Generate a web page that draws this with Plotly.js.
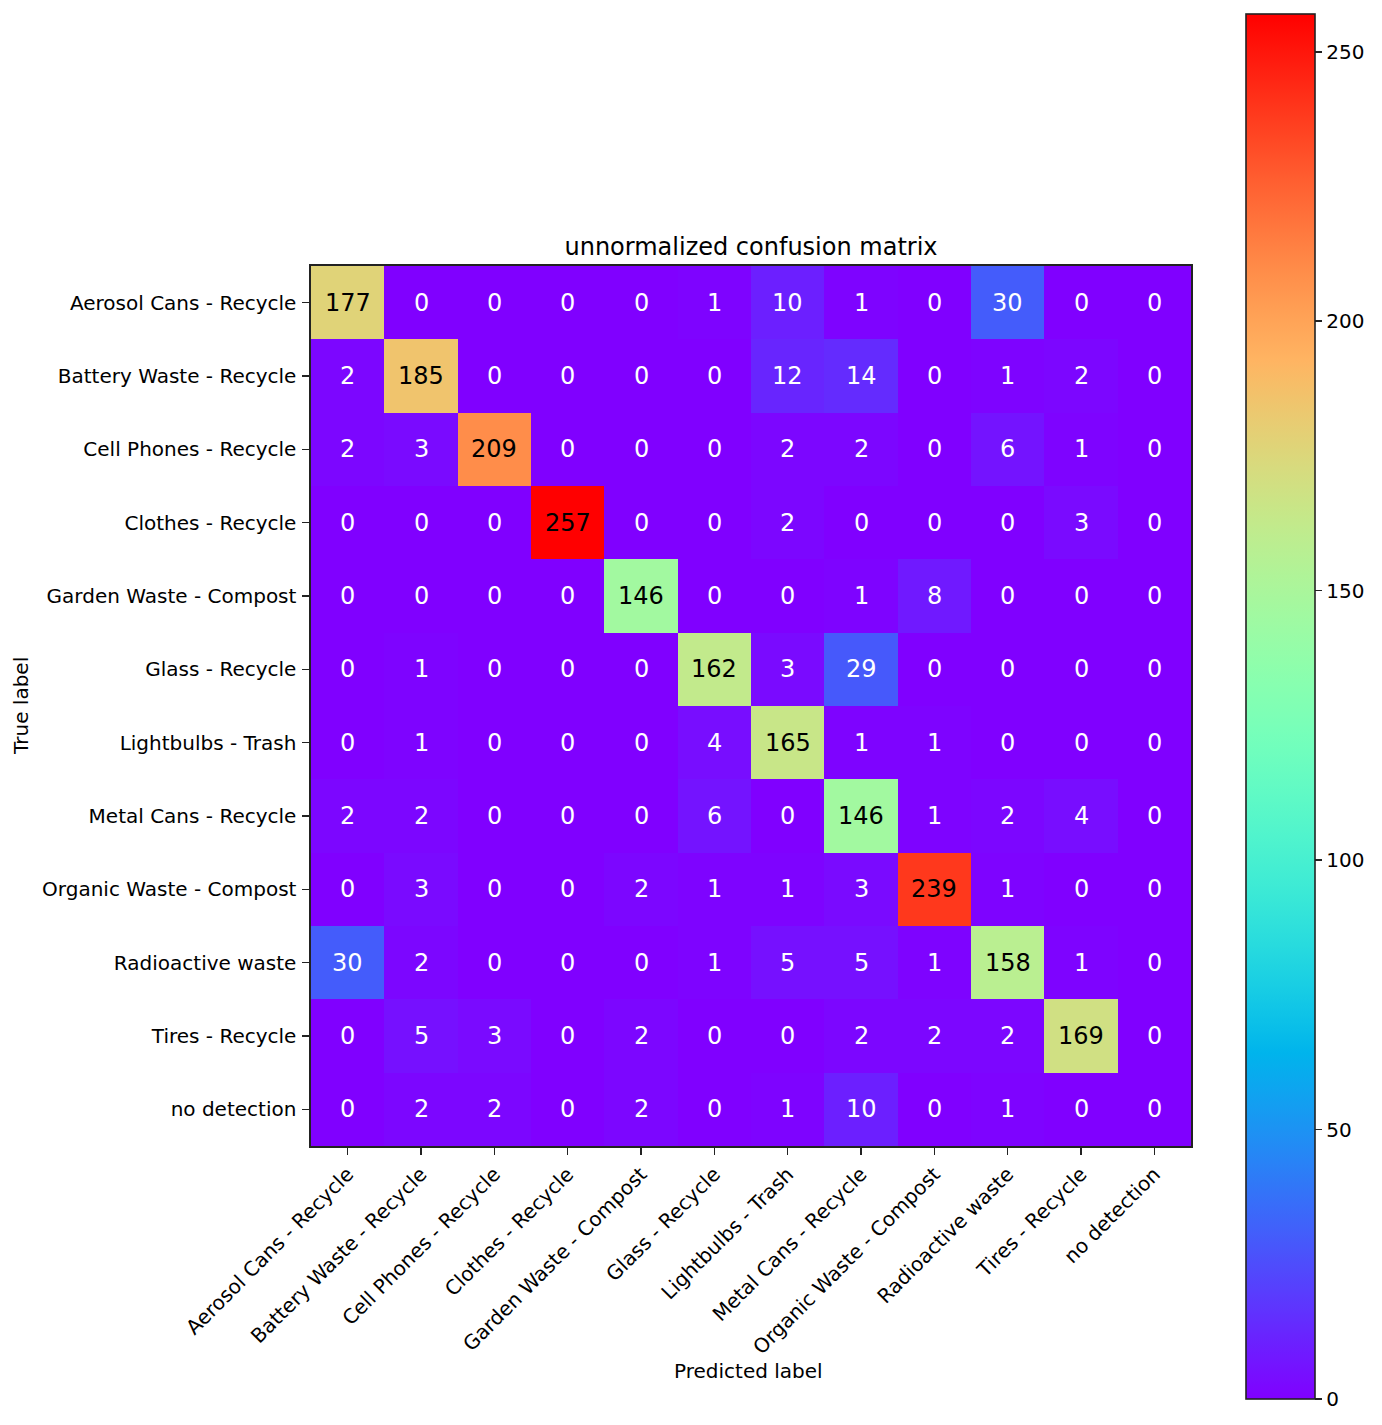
<!DOCTYPE html>
<html>
<head>
<meta charset="utf-8">
<script src="https://cdn.plot.ly/plotly-3.0.1.min.js"></script>
<style>html,body{margin:0;padding:0;background:#fff;}#chart{width:1382px;height:1425px;}</style>
</head>
<body>
<div id="chart"></div>
<script>
const labels = ["Aerosol Cans - Recycle","Battery Waste - Recycle","Cell Phones - Recycle","Clothes - Recycle","Garden Waste - Compost","Glass - Recycle","Lightbulbs - Trash","Metal Cans - Recycle","Organic Waste - Compost","Radioactive waste","Tires - Recycle","no detection"];
const matrix = [
  [177,0,0,0,0,1,10,1,0,30,0,0],
  [2,185,0,0,0,0,12,14,0,1,2,0],
  [2,3,209,0,0,0,2,2,0,6,1,0],
  [0,0,0,257,0,0,2,0,0,0,3,0],
  [0,0,0,0,146,0,0,1,8,0,0,0],
  [0,1,0,0,0,162,3,29,0,0,0,0],
  [0,1,0,0,0,4,165,1,1,0,0,0],
  [2,2,0,0,0,6,0,146,1,2,4,0],
  [0,3,0,0,2,1,1,3,239,1,0,0],
  [30,2,0,0,0,1,5,5,1,158,1,0],
  [0,5,3,0,2,0,0,2,2,2,169,0],
  [0,2,2,0,2,0,1,10,0,1,0,0]
];
const colorTicks = [0,50,100,150,200,250];
const titleText = "unnormalized confusion matrix";
const xTitle = "Predicted label";
const yTitle = "True label";

// matplotlib "rainbow" colormap
function rainbow(x){
  const c = v => Math.max(0, Math.min(1, v));
  const r = c(Math.abs(2*x - 0.5));
  const g = c(Math.sin(Math.PI*x));
  const b = c(Math.cos(Math.PI/2*x));
  return `rgb(${Math.round(r*255)},${Math.round(g*255)},${Math.round(b*255)})`;
}
const cs = [];
for(let i=0;i<=64;i++){ const t=i/64; cs.push([t, rainbow(t)]); }

const zmax = Math.max(...matrix.flat());
const thresh = zmax/2;
const FF = 'DejaVu Sans';
const annotations = [];
matrix.forEach((row,i)=>row.forEach((v,j)=>{
  annotations.push({x:labels[j], y:labels[i], xref:'x', yref:'y', text:String(v), showarrow:false,
    font:{family:FF, size:24, color: v>thresh ? 'black':'white'}});
}));
annotations.push({text:xTitle, xref:'paper', yref:'paper', x:0.4966, y:-(1371-1146)/880, xanchor:'center', yanchor:'middle', showarrow:false, font:{family:FF, size:20, color:'black'}});
annotations.push({text:yTitle, xref:'paper', yref:'paper', x:-(311-21)/880, y:0.5, xanchor:'center', yanchor:'middle', textangle:-90, showarrow:false, font:{family:FF, size:20, color:'black'}});

const font = {family:FF, size:20, color:'black'};
const trace = {
  type:'heatmap', x:labels, y:labels, z:matrix, zmin:0, zmax:zmax,
  colorscale:cs, hoverinfo:'skip',
  colorbar:{
    x:(1246-311)/880, xanchor:'left', xref:'paper', xpad:0, ypad:0,
    y:(1146-706.5)/880, yanchor:'middle',
    thickness:69, thicknessmode:'pixels', len:1385, lenmode:'pixels',
    outlinewidth:1.6, outlinecolor:'#222',
    tickvals:colorTicks, ticktext:colorTicks.map(String),
    ticks:'outside', ticklen:7, tickwidth:1.6, tickcolor:'#222', tickfont:font, ticklabelstandoff:4
  }
};
const axisCommon = {type:'category', ticks:'outside', ticklen:7, tickwidth:1.6, tickcolor:'#222', showline:true, mirror:true, linecolor:'#222', linewidth:1.6, showgrid:false, zeroline:false, tickfont:font};
const layout = {
  width:1382, height:1425,
  margin:{l:311, r:191, t:266, b:279},
  paper_bgcolor:'white', plot_bgcolor:'white',
  font:font,
  title:{text:titleText, x:751/1382, xref:'container', xanchor:'center', y:1-247/1425, yref:'container', yanchor:'middle', font:{family:FF, size:24, color:'black'}},
  xaxis:Object.assign({}, axisCommon, {tickangle:-45, ticklabelstandoff:0}),
  yaxis:Object.assign({}, axisCommon, {autorange:'reversed', ticklabelstandoff:2}),
  annotations:annotations
};
Plotly.newPlot('chart',[trace],layout,{displayModeBar:false, staticPlot:true});
</script>
</body>
</html>
